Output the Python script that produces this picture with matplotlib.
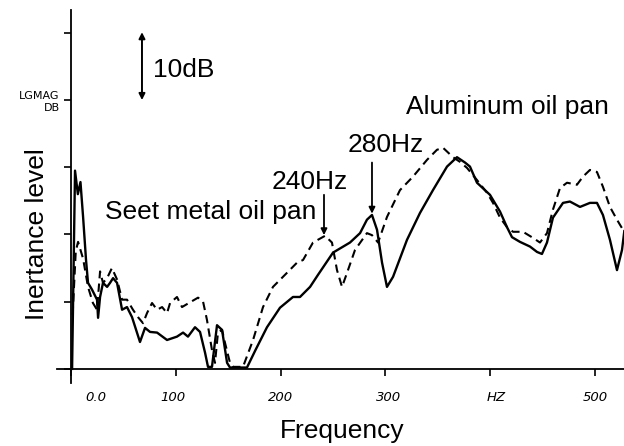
import numpy as np
import matplotlib.pyplot as plt
import matplotlib.transforms as mtransforms

# aluminium oil pan (solid): Hz / dB above the floor
alu_hz = [1.0, 3.8, 6.5, 9.0, 11.5, 14.3, 16.2, 20.0, 24.8, 25.8, 27.7, 30.5, 34.4,
          37.2, 40.1, 43.9, 48.7, 53.4, 58.2, 65.8, 70.6, 75.4, 82.1, 91.6, 101.1,
          106.9, 111.6, 118.3, 123.1, 127.9, 130.7, 134.5, 139.3, 144.1, 148.9,
          151.7, 167.9, 176.0, 187.0, 199.4, 211.8, 218.5, 228.1, 235.7, 250.0,
          266.2, 275.8, 282.4, 287.2, 292.0, 296.8, 301.5, 307.3, 320.6, 333.0,
          345.4, 358.8, 368.3, 376.0, 380.7, 387.4, 399.8, 409.4, 416.0, 420.8,
          428.4, 438.0, 444.7, 449.4, 454.2, 459.9, 469.5, 476.1, 485.7, 495.2,
          501.9, 507.6, 514.3, 521.0, 525.8, 528.0]
alu_db = [0.0, 29.5, 26.0, 27.8, 22.6, 16.2, 12.8, 11.8, 10.3, 7.6, 10.7, 12.8, 12.2,
          12.8, 13.5, 12.8, 8.8, 9.2, 7.7, 4.0, 6.1, 5.5, 5.4, 4.3, 4.8,
          5.4, 4.8, 6.2, 5.5, 2.4, 0.3, 0.3, 6.5, 5.8, 0.9,
          0.2, 0.2, 2.8, 6.2, 9.1, 10.7, 10.7, 12.2, 14.0, 17.3,
          18.8, 20.2, 22.2, 22.9, 20.7, 15.8, 12.2, 13.7, 19.2, 23.2,
          26.6, 30.1, 31.5, 30.7, 30.1, 27.7, 25.9, 23.4, 21.1, 19.6,
          18.9, 18.2, 17.4, 17.1, 18.8, 22.5, 24.7, 24.9, 24.1, 24.7,
          24.7, 22.9, 19.2, 14.7, 17.7, 20.5]

# sheet metal oil pan (dashed)
steel_hz = [1.5, 4.5, 6.7, 11.5, 16.2, 20.9, 24.8, 27.7, 30.5, 34.4, 39.0, 43.9,
            48.7, 53.4, 59.1, 63.9, 68.7, 72.5, 77.3, 82.1, 86.9, 91.6, 94.5,
            101.1, 105.9, 113.5, 121.2, 126.0, 129.7, 134.5, 137.4, 140.2, 144.1,
            146.9, 151.7, 154.6, 164.1, 173.7, 183.2, 192.7, 206.1, 215.6, 221.4,
            230.9, 242.4, 249.0, 253.8, 258.6, 263.4, 271.0, 282.4, 287.2, 293.0,
            301.5, 313.9, 326.3, 339.7, 349.2, 355.0, 364.5, 371.2, 377.9, 387.4,
            397.0, 402.7, 409.4, 416.0, 421.8, 431.3, 440.8, 447.5, 454.2, 459.9,
            466.6, 473.3, 482.8, 488.5, 495.2, 501.9, 507.6, 514.3, 521.0, 526.7]
steel_db = [8.0, 17.5, 18.9, 16.4, 12.2, 9.8, 8.8, 14.5, 12.8, 13.5, 15.0, 13.3,
            10.3, 10.3, 8.8, 7.7, 6.8, 8.3, 9.8, 8.8, 9.2, 8.3, 9.8,
            10.7, 9.2, 9.9, 10.6, 10.0, 7.3, 2.8, 0.9, 5.4, 5.8,
            3.9, 0.9, 0.3, 0.3, 4.3, 9.2, 12.2, 14.3, 15.8, 16.2,
            18.8, 19.8, 18.8, 14.7, 12.2, 14.3, 17.7, 20.2, 19.9, 18.8,
            22.6, 26.6, 28.6, 31.1, 32.6, 32.9, 31.5, 30.8, 29.9, 28.1,
            26.2, 24.7, 22.5, 21.1, 20.4, 20.4, 19.5, 18.8, 20.2, 23.7,
            26.9, 27.7, 27.4, 28.6, 29.6, 29.3, 27.1, 24.1, 22.2, 20.7]

x_ticks = [0, 100, 200, 300, 400, 500]
x_labels = ['0.0', '100', '200', '300', 'HZ', '500']
x_label_shift = [25, -3, 0, 3, 6, 0]   # pixels, the analyser prints them off-centre
y_ticks = [0, 10, 20, 30, 40, 50]

big = 19
plt.rcParams['font.family'] = ['Liberation Sans', 'DejaVu Sans']

fig = plt.figure(figsize=(6.24, 4.46), dpi=100)
ax = fig.add_axes([57 / 624, 63 / 446, 567 / 624, 373 / 446])

ax.plot(alu_hz, alu_db, color='black', lw=1.7, solid_joinstyle='round')
ax.plot(steel_hz, steel_db, color='black', lw=1.5, dashes=(4, 2.5))

ax.set_xlim(-13.4, 527.7)
ax.set_ylim(-2.1, 53.4)
for side in ['top', 'right']:
    ax.spines[side].set_visible(False)
ax.spines['left'].set_position(('data', 0))
ax.spines['bottom'].set_position(('data', 0))
for side in ['left', 'bottom']:
    ax.spines[side].set_linewidth(1.3)

ax.set_yticks(y_ticks)
ax.set_yticklabels([])
ax.set_xticks(x_ticks)
ax.set_xticklabels(x_labels, fontsize=9.5, style='italic', family='DejaVu Sans')
ax.tick_params(axis='both', direction='out', length=5, width=1.2)
ax.tick_params(axis='x', pad=11)
for lab, dx in zip(ax.get_xticklabels(), x_label_shift):
    off = mtransforms.ScaledTranslation(dx / 100, 0, fig.dpi_scale_trans)
    lab.set_transform(lab.get_transform() + off)

# analyser's own axis caption
ax.text(-11, 40.6, 'LGMAG', fontsize=8, family='DejaVu Sans', va='center', ha='right')
ax.text(-11, 38.8, 'DB', fontsize=8, family='DejaVu Sans', va='center', ha='right')

# 10 dB scale bar
ax.annotate('', xy=(67.7, 40.0), xytext=(67.7, 50.1),
            arrowprops=dict(arrowstyle='<|-|>', color='black', lw=1.4,
                            mutation_scale=9, shrinkA=0, shrinkB=0))
ax.text(78, 44.5, '10dB', fontsize=big, va='center')

ax.text(32.4, 23.4, 'Seet metal oil pan', fontsize=big, va='center')
ax.text(191.8, 27.8, '240Hz', fontsize=big, va='center')
ax.text(264.3, 33.3, '280Hz', fontsize=big, va='center')
ax.text(319.7, 39.0, 'Aluminum oil pan', fontsize=big, va='center')

for x0, y0, y1 in [(241.4, 25.9, 19.9), (287.2, 30.7, 23.1)]:
    ax.annotate('', xy=(x0, y1), xytext=(x0, y0),
                arrowprops=dict(arrowstyle='-|>', color='black', lw=1.3,
                                mutation_scale=9, shrinkA=0, shrinkB=0))

fig.text(37 / 624, 1 - 234 / 446, 'Inertance level', fontsize=big,
         rotation=90, ha='center', va='center')
fig.text(342 / 624, 1 - 431 / 446, 'Frequency', fontsize=big,
         ha='center', va='center')

fig.savefig('out.png', dpi=100)
